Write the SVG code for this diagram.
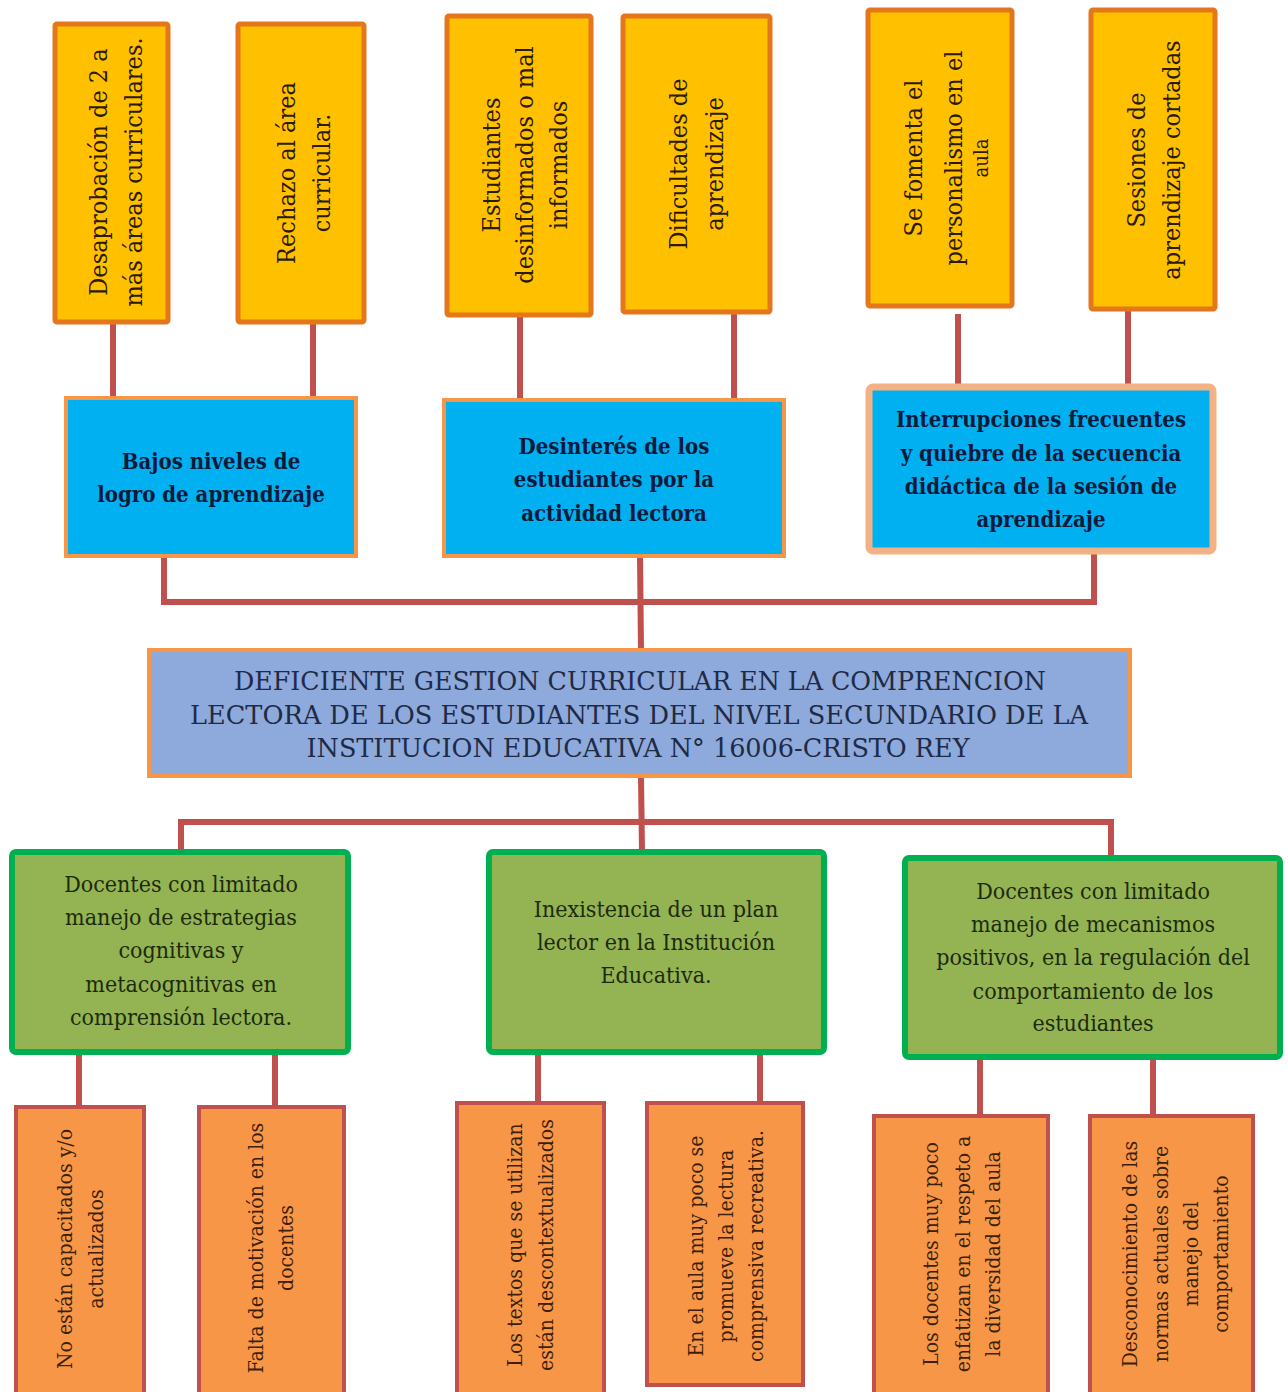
<svg xmlns="http://www.w3.org/2000/svg" width="1288" height="1392" viewBox="0 0 1288 1392">
<style>
.yb{fill:#FFC000;stroke:#E4761B;stroke-width:5}
.bb{fill:#00B0F0;stroke:#F79646;stroke-width:4}
.bb2{fill:#00B0F0;stroke:#F4B183;stroke-width:7}
.cb{fill:#8EA9DB;stroke:#F79646;stroke-width:4}
.gb{fill:#94B454;stroke:#00B050;stroke-width:6}
.ob{fill:#F79646;stroke:#C0504D;stroke-width:4}
text{font-family:"DejaVu Serif Condensed","DejaVu Serif",serif;font-stretch:condensed}
.yt{font-size:25px;fill:#2B1A00}
.bt{font-size:22px;font-weight:bold;fill:#0B1A3A}
.ct{font-size:26px;fill:#1F2A44}
.gt{font-size:23px;fill:#1D2B0B}
.ot{font-size:21px;fill:#3B1F0A}
.cn line{stroke:#C0504D;stroke-width:6}
</style>
<rect width="1288" height="1392" fill="#FFFFFF"/>
<g class="cn" id="connectors">
<line x1="113" y1="322" x2="113" y2="400"/>
<line x1="313" y1="322" x2="313" y2="400"/>
<line x1="520" y1="315" x2="520" y2="400"/>
<line x1="734" y1="312" x2="734" y2="400"/>
<line x1="958" y1="314" x2="958" y2="390"/>
<line x1="1128" y1="311" x2="1128" y2="390"/>
<line x1="164" y1="556" x2="164" y2="605"/>
<line x1="1094" y1="552" x2="1094" y2="605"/>
<line x1="161" y1="602" x2="1097" y2="602"/>
<line x1="640" y1="556" x2="641" y2="650"/>
<line x1="641" y1="776" x2="642" y2="852"/>
<line x1="178" y1="822" x2="1114" y2="822"/>
<line x1="181" y1="819" x2="181" y2="852"/>
<line x1="1111" y1="819" x2="1111" y2="856"/>
<line x1="79" y1="1052" x2="79" y2="1108"/>
<line x1="275" y1="1052" x2="275" y2="1108"/>
<line x1="538" y1="1052" x2="538" y2="1104"/>
<line x1="760" y1="1052" x2="760" y2="1104"/>
<line x1="980" y1="1057" x2="980" y2="1116"/>
<line x1="1153" y1="1057" x2="1153" y2="1116"/>
</g>
<g id="y1"><rect class="yb" x="55" y="24" width="113" height="298" rx="2"/>
<text class="yt" text-anchor="middle" transform="translate(111,172) rotate(-90)"><tspan x="0" y="-4">Desaprobación de  2 a</tspan><tspan x="0" y="31">más áreas curriculares.</tspan></text></g>
<g id="y2"><rect class="yb" x="238" y="24" width="126" height="298" rx="2"/>
<text class="yt" text-anchor="middle" transform="translate(301,173) rotate(-90)"><tspan x="0" y="-6">Rechazo al área</tspan><tspan x="0" y="29">curricular.</tspan></text></g>
<g id="y3"><rect class="yb" x="447" y="16" width="144" height="299" rx="2"/>
<text class="yt" text-anchor="middle" transform="translate(519,165) rotate(-90)"><tspan x="0" y="-19">Estudiantes</tspan><tspan x="0" y="14">desinformados o mal</tspan><tspan x="0" y="48">informados</tspan></text></g>
<g id="y4"><rect class="yb" x="623" y="16" width="147" height="296" rx="2"/>
<text class="yt" text-anchor="middle" transform="translate(696,164) rotate(-90)"><tspan x="0" y="-9">Dificultades de</tspan><tspan x="0" y="27">aprendizaje</tspan></text></g>
<g id="y5"><rect class="yb" x="868" y="10" width="144" height="296" rx="2"/>
<text class="yt" text-anchor="middle" transform="translate(940,158) rotate(-90)"><tspan x="0" y="-18">Se fomenta el</tspan><tspan x="0" y="22">personalismo en el</tspan><tspan x="0" y="48" font-size="20">aula</tspan></text></g>
<g id="y6"><rect class="yb" x="1091" y="10" width="124" height="299" rx="2"/>
<text class="yt" text-anchor="middle" transform="translate(1153,160) rotate(-90)"><tspan x="0" y="-8">Sesiones de</tspan><tspan x="0" y="27">aprendizaje cortadas</tspan></text></g>
<g id="b1"><rect class="bb" x="66" y="398" width="290" height="158"/>
<text class="bt" text-anchor="middle"><tspan x="211" y="469">Bajos niveles de</tspan><tspan x="211" y="502">logro de aprendizaje</tspan></text></g>
<g id="b2"><rect class="bb" x="444" y="400" width="340" height="156"/>
<text class="bt" text-anchor="middle"><tspan x="614" y="454">Desinterés de los</tspan><tspan x="614" y="487">estudiantes por la</tspan><tspan x="614" y="521">actividad lectora</tspan></text></g>
<g id="b3"><rect class="bb2" x="869" y="387" width="344" height="164" rx="4"/>
<text class="bt" text-anchor="middle"><tspan x="1041" y="427">Interrupciones frecuentes</tspan><tspan x="1041" y="461">y quiebre de la secuencia</tspan><tspan x="1041" y="494">didáctica de la sesión de</tspan><tspan x="1041" y="527">aprendizaje</tspan></text></g>
<g id="center"><rect class="cb" x="149" y="650" width="981" height="126"/>
<text class="ct" text-anchor="middle"><tspan x="640" y="690" textLength="812" lengthAdjust="spacingAndGlyphs">DEFICIENTE GESTION CURRICULAR EN LA COMPRENCION</tspan><tspan x="639" y="724" textLength="898" lengthAdjust="spacingAndGlyphs">LECTORA DE LOS ESTUDIANTES DEL NIVEL SECUNDARIO DE LA</tspan><tspan x="638" y="757" textLength="663" lengthAdjust="spacingAndGlyphs">INSTITUCION EDUCATIVA N° 16006-CRISTO REY</tspan></text></g>
<g id="g1"><rect class="gb" x="12" y="852" width="336" height="200" rx="4"/>
<text class="gt" text-anchor="middle"><tspan x="181" y="892">Docentes con limitado</tspan><tspan x="181" y="925">manejo de estrategias</tspan><tspan x="181" y="958">cognitivas y</tspan><tspan x="181" y="992">metacognitivas en</tspan><tspan x="181" y="1025">comprensión lectora.</tspan></text></g>
<g id="g2"><rect class="gb" x="489" y="852" width="335" height="200" rx="4"/>
<text class="gt" text-anchor="middle"><tspan x="656" y="917">Inexistencia de un plan</tspan><tspan x="656" y="950">lector en la Institución</tspan><tspan x="656" y="983">Educativa.</tspan></text></g>
<g id="g3"><rect class="gb" x="905" y="858" width="375" height="199" rx="4"/>
<text class="gt" text-anchor="middle"><tspan x="1093" y="899">Docentes con limitado</tspan><tspan x="1093" y="932">manejo de mecanismos</tspan><tspan x="1093" y="965">positivos, en la regulación del</tspan><tspan x="1093" y="999">comportamiento de los</tspan><tspan x="1093" y="1031">estudiantes</tspan></text></g>
<g id="o1"><rect class="ob" x="16" y="1107" width="128" height="290"/>
<text class="ot" text-anchor="middle" transform="translate(80,1249) rotate(-90)"><tspan x="0" y="-8">No están capacitados y/o</tspan><tspan x="0" y="23">actualizados</tspan></text></g>
<g id="o2"><rect class="ob" x="199" y="1107" width="145" height="290"/>
<text class="ot" text-anchor="middle" transform="translate(271,1248) rotate(-90)"><tspan x="0" y="-8">Falta de motivación en los</tspan><tspan x="0" y="22">docentes</tspan></text></g>
<g id="o3"><rect class="ob" x="457" y="1103" width="147" height="294"/>
<text class="ot" text-anchor="middle" transform="translate(530,1245) rotate(-90)"><tspan x="0" y="-8">Los textos que se utilizan</tspan><tspan x="0" y="23">están descontextualizados</tspan></text></g>
<g id="o4"><rect class="ob" x="647" y="1103" width="156" height="282"/>
<text class="ot" text-anchor="middle" transform="translate(725,1246) rotate(-90)"><tspan x="0" y="-22">En el aula muy poco se</tspan><tspan x="0" y="8">promueve la lectura</tspan><tspan x="0" y="38">comprensiva recreativa.</tspan></text></g>
<g id="o5"><rect class="ob" x="874" y="1116" width="174" height="281"/>
<text class="ot" text-anchor="middle" transform="translate(961,1254) rotate(-90)"><tspan x="0" y="-23">Los docentes muy poco</tspan><tspan x="0" y="9">enfatizan en el respeto a</tspan><tspan x="0" y="39">la diversidad del aula</tspan></text></g>
<g id="o6"><rect class="ob" x="1090" y="1116" width="163" height="281"/>
<text class="ot" text-anchor="middle" transform="translate(1171,1254) rotate(-90)"><tspan x="0" y="-34">Desconocimiento de las</tspan><tspan x="0" y="-3">normas actuales sobre</tspan><tspan x="0" y="27">manejo del</tspan><tspan x="0" y="57">comportamiento</tspan></text></g>
</svg>
